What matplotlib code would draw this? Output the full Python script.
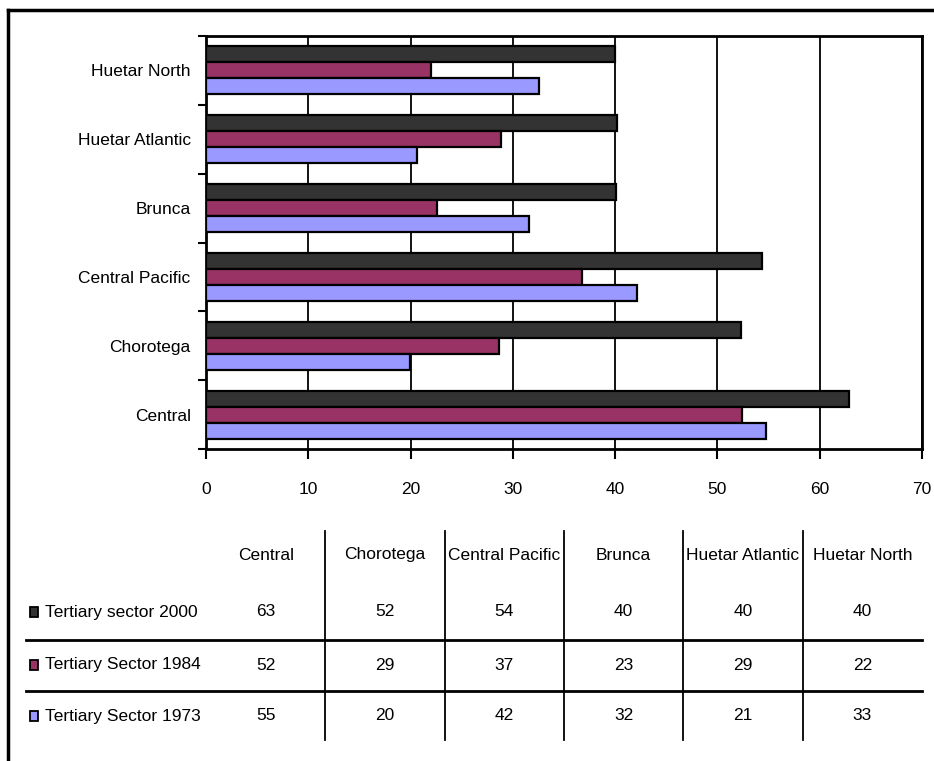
import numpy as np
import matplotlib
matplotlib.use('Agg')
import matplotlib.pyplot as plt
from matplotlib.lines import Line2D
from matplotlib.patches import Rectangle
from matplotlib.transforms import blended_transform_factory

plt.rcParams['font.family'] = ['Liberation Sans', 'DejaVu Sans']

# Regions, bottom to top as drawn on the chart
regions = ['Central', 'Chorotega', 'Central Pacific', 'Brunca', 'Huetar Atlantic', 'Huetar North']

# Tertiary sector share (%) per region
sector_2000 = [62.9, 52.3, 54.4, 40.1, 40.2, 40.0]
sector_1984 = [52.4, 28.6, 36.8, 22.6, 28.8, 22.0]
sector_1973 = [54.7, 19.9, 42.1, 31.6, 20.6, 32.6]

series_names = ['Tertiary sector 2000', 'Tertiary Sector 1984', 'Tertiary Sector 1973']
series_colors = ['#333333', '#993366', '#9999FF']
x_ticks = [0, 10, 20, 30, 40, 50, 60, 70]

FS = 12.5
W, H = 934, 761
fig = plt.figure(figsize=(W / 100, H / 100), dpi=100)

def fx(px):
    return px / W

def fy(py):
    return 1 - py / H

ax = fig.add_axes([fx(206), fy(449), fx(922) - fx(206), fy(36) - fy(449)])

y = np.arange(len(regions))
bh = 0.233
all_series = [sector_2000, sector_1984, sector_1973]
for i, (vals, col) in enumerate(zip(all_series, series_colors)):
    ax.barh(y + (1 - i) * bh, vals, height=bh, color=col,
            edgecolor='black', linewidth=1.6, zorder=3)

ax.set_xlim(0, 70)
ax.set_ylim(-0.5, len(regions) - 0.5)
ax.set_xticks(x_ticks)
ax.set_xticklabels([str(t) for t in x_ticks], fontsize=FS)
ax.tick_params(axis='x', direction='out', length=7, width=1.5, pad=17)
ax.grid(axis='x', color='black', linewidth=1.3, zorder=1)

# boundaries get tick marks, centres get the labels
ax.set_yticks(np.arange(-0.5, len(regions), 1))
ax.set_yticklabels([])
ax.tick_params(axis='y', which='major', direction='out', length=6, width=1.5)
ax.set_yticks(y, minor=True)
ax.set_yticklabels(regions, minor=True, fontsize=FS)
ax.tick_params(axis='y', which='minor', length=0, pad=11)

for sp in ax.spines.values():
    sp.set_linewidth(2)
    sp.set_color('black')

# data table under the chart
trans = blended_transform_factory(ax.transAxes, fig.transFigure)
ncol = len(regions)
for j, name in enumerate(regions):
    fig.text((j + 0.5) / ncol, fy(555), name, transform=trans,
             ha='center', va='center', fontsize=FS)

row_y = [612, 665, 716]
for i, (vals, name, col) in enumerate(zip(all_series, series_names, series_colors)):
    for j, v in enumerate(vals):
        fig.text((j + 0.5) / ncol, fy(row_y[i]), str(int(round(v))), transform=trans,
                 ha='center', va='center', fontsize=FS)
    fig.patches.append(Rectangle((fx(30), fy(row_y[i] + 5)), fx(8), fy(row_y[i] - 5) - fy(row_y[i] + 5),
                                 transform=fig.transFigure, facecolor=col,
                                 edgecolor='black', linewidth=1.3))
    fig.text(fx(45), fy(row_y[i]), name, ha='left', va='center', fontsize=FS)

for j in range(1, ncol):
    fig.add_artist(Line2D([j / ncol, j / ncol], [fy(531), fy(740)], transform=trans,
                          color='black', linewidth=1.3))
for py in [640, 691]:
    fig.add_artist(Line2D([fx(26), fx(922)], [fy(py), fy(py)],
                          color='black', linewidth=2))

# outer frame (runs off the right and bottom edges)
fig.add_artist(Line2D([fx(8), 1], [fy(10), fy(10)], color='black', linewidth=2.5))
fig.add_artist(Line2D([fx(8), fx(8)], [fy(10), 0], color='black', linewidth=2.5))

fig.savefig('out.png', dpi=100)
